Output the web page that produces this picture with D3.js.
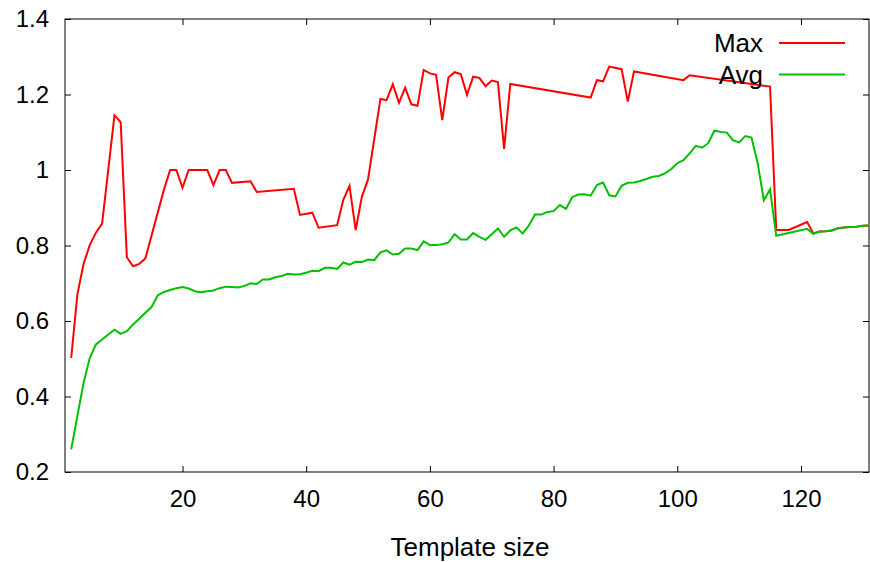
<!DOCTYPE html>
<html>
<head>
<meta charset="utf-8">
<script src="https://cdn.jsdelivr.net/npm/d3@7"></script>
<style>
  html, body { margin: 0; padding: 0; background: #fff; }
  svg { display: block; font-family: "Liberation Sans", Arial, sans-serif; }
</style>
</head>
<body>
<svg id="chart" width="870" height="562"></svg>
<script>
// ---- data ----
const sizesMax = [2,3,4,5,6,7,9,10,11,12,13,14,17,18,19,20,21,22,23,24,25,26,27,28,31,32,38,39,41,42,45,46,47,48,49,50,52,53,54,55,56,57,58,59,60,61,62,63,64,65,66,67,68,69,70,71,72,73,86,87,88,89,91,92,93,101,102,115,116,118,121,122,123,124,125,126,127,128,129,130,131];
const maxValues = [0.502,0.670,0.751,0.801,0.834,0.858,1.145,1.127,0.769,0.745,0.751,0.766,0.948,1.0,1.0,0.953,1.0,1.0,1.0,1.0,0.960,1.0,1.0,0.966,0.970,0.942,0.950,0.881,0.887,0.847,0.854,0.921,0.958,0.841,0.929,0.975,1.188,1.185,1.227,1.178,1.218,1.174,1.170,1.265,1.256,1.252,1.132,1.245,1.259,1.254,1.199,1.247,1.244,1.222,1.237,1.233,1.056,1.228,1.192,1.238,1.235,1.274,1.267,1.181,1.261,1.238,1.251,1.221,0.841,0.841,0.862,0.832,0.837,0.838,0.840,0.846,0.848,0.849,0.850,0.852,0.853];

const sizesAvg = [2,3,4,5,6,7,8,9,10,11,12,13,14,15,16,17,18,19,20,21,22,23,24,25,26,27,28,29,30,31,32,33,34,35,36,37,38,39,40,41,42,43,44,45,46,47,48,49,50,51,52,53,54,55,56,57,58,59,60,61,62,63,64,65,66,67,68,69,70,71,72,73,74,75,76,77,78,79,80,81,82,83,84,85,86,87,88,89,90,91,92,93,94,95,96,97,98,99,100,101,102,103,104,105,106,107,108,109,110,111,112,113,114,115,116,121,122,123,124,125,126,127,128,129,130,131];
const avgValues = [0.260,0.348,0.436,0.502,0.538,0.551,0.564,0.577,0.566,0.573,0.591,0.606,0.622,0.637,0.668,0.677,0.682,0.687,0.690,0.686,0.679,0.676,0.679,0.681,0.687,0.691,0.690,0.689,0.693,0.700,0.698,0.710,0.710,0.716,0.719,0.725,0.723,0.724,0.728,0.733,0.732,0.741,0.741,0.738,0.755,0.749,0.757,0.756,0.763,0.761,0.782,0.787,0.776,0.778,0.792,0.792,0.788,0.811,0.801,0.801,0.803,0.808,0.830,0.816,0.816,0.833,0.823,0.815,0.830,0.845,0.823,0.840,0.848,0.832,0.853,0.882,0.882,0.889,0.891,0.907,0.897,0.928,0.935,0.936,0.932,0.960,0.967,0.933,0.930,0.958,0.966,0.967,0.971,0.976,0.982,0.984,0.991,1.002,1.018,1.026,1.044,1.064,1.059,1.071,1.104,1.101,1.099,1.079,1.073,1.090,1.086,1.018,0.920,0.949,0.826,0.844,0.831,0.837,0.838,0.840,0.846,0.848,0.849,0.850,0.852,0.853];

const xTicks = [20,40,60,80,100,120];
const yTicks = [0.2,0.4,0.6,0.8,1.0,1.2,1.4];
const seriesNames = ["Max","Avg"];
const seriesColors = ["#ff0000","#00c000"];
const xLabel = "Template size";

// ---- layout ----
const L = 65, R = 869, T = 19, B = 472;
const svg = d3.select("#chart");
const x = d3.scaleLinear().domain([1,131]).range([L,R]);
const y = d3.scaleLinear().domain([0.2,1.4]).range([B,T]);
const fmt = d => String(+d.toFixed(1));

function styleAxis(g, showText) {
  g.select(".domain").remove();
  g.selectAll(".tick line").attr("stroke", "#000").attr("stroke-width", 1);
  g.selectAll(".tick text").attr("fill", "#000").style("font-size", "24px")
    .style("font-family", "'Liberation Sans', Arial, sans-serif");
  if (!showText) g.selectAll(".tick text").remove();
}

svg.append("g").attr("transform", `translate(${L},0)`)
  .call(d3.axisLeft(y).tickValues(yTicks).tickFormat(fmt).tickSizeInner(-6).tickSizeOuter(0).tickPadding(16))
  .call(g => styleAxis(g, true));
svg.append("g").attr("transform", `translate(${R},0)`)
  .call(d3.axisRight(y).tickValues(yTicks).tickSizeInner(-6).tickSizeOuter(0))
  .call(g => styleAxis(g, false));
svg.append("g").attr("transform", `translate(0,${B})`)
  .call(d3.axisBottom(x).tickValues(xTicks).tickFormat(fmt).tickSizeInner(-6).tickSizeOuter(0).tickPadding(18))
  .call(g => styleAxis(g, true));
svg.append("g").attr("transform", `translate(0,${T})`)
  .call(d3.axisTop(x).tickValues(xTicks).tickSizeInner(-6).tickSizeOuter(0))
  .call(g => styleAxis(g, false));

svg.append("rect").attr("x", L).attr("y", T).attr("width", R - L).attr("height", B - T)
  .attr("fill", "none").attr("stroke", "#000").attr("stroke-width", 1);

const line = d3.line().x(d => x(d[0])).y(d => y(d[1]));
const maxData = sizesMax.map((s, i) => [s, maxValues[i]]);
const avgData = sizesAvg.map((s, i) => [s, avgValues[i]]);
[maxData, avgData].forEach((data, i) => {
  svg.append("path").datum(data).attr("d", line)
    .attr("fill", "none").attr("stroke", seriesColors[i]).attr("stroke-width", 2)
    .attr("stroke-linejoin", "miter");
});

// legend
seriesNames.forEach((name, i) => {
  const yy = 43 + i * 31.5;
  svg.append("text").attr("x", 763).attr("y", yy + 9).attr("text-anchor", "end")
    .style("font-size", "26px").attr("fill", "#000").text(name);
  svg.append("line").attr("x1", 779).attr("x2", 845).attr("y1", yy).attr("y2", yy)
    .attr("stroke", seriesColors[i]).attr("stroke-width", 2);
});

svg.append("text").attr("x", (L + R) / 2 + 3).attr("y", 556).attr("text-anchor", "middle")
  .style("font-size", "26px").attr("fill", "#000").text(xLabel);
</script>
</body>
</html>
